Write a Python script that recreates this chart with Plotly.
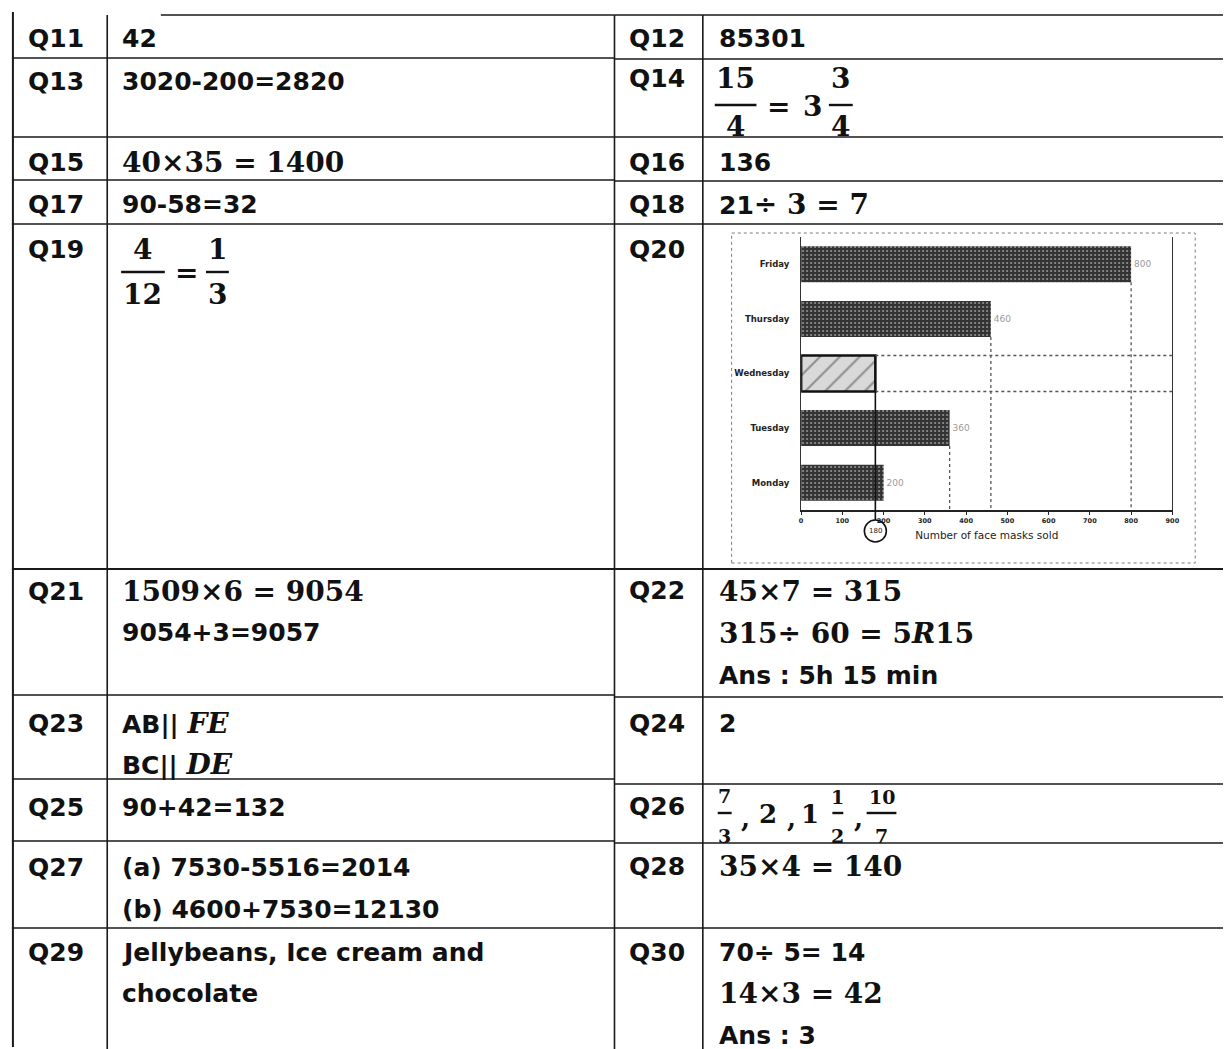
import plotly.graph_objects as go

# ---------------- data ----------------
days = ["Monday", "Tuesday", "Wednesday", "Thursday", "Friday"]
masks = [200, 360, 180, 460, 800]
hand_labels = ["200", "360", "", "460", "800"]
x_ticks = [0, 100, 200, 300, 400, 500, 600, 700, 800, 900]
answer_wed = "180"

q_left = ["Q11", "Q13", "Q15", "Q17", "Q19", "Q21", "Q23", "Q25", "Q27", "Q29"]
q_right = ["Q12", "Q14", "Q16", "Q18", "Q20", "Q22", "Q24", "Q26", "Q28", "Q30"]

W, H = 1230, 1049
SANS = "DejaVu Sans"
SERIF = "DejaVu Serif"
INK = "#111111"
SZ_SANS = 25
SZ_SERIF = 28


def serif_span(s, size=SZ_SERIF, italic=False):
    inner = f"<i>{s}</i>" if italic else s
    return f'<span style="font-family:{SERIF};font-size:{size}px">{inner}</span>'


def sans_span(s, size=SZ_SANS):
    return f'<span style="font-family:{SANS};font-size:{size}px">{s}</span>'


# answer lines: (text, family)
ans_left = [
    [("42", SANS)],
    [("3020-200=2820", SANS)],
    [("40×35 = 1400", SERIF)],
    [("90-58=32", SANS)],
    [],
    [("1509×6 = 9054", SERIF), ("9054+3=9057", SANS)],
    [("AB|| " + serif_span("FE", italic=True), SANS), ("BC|| " + serif_span("DE", italic=True), SANS)],
    [("90+42=132", SANS)],
    [("(a) 7530-5516=2014", SANS), ("(b) 4600+7530=12130", SANS)],
    [("Jellybeans, Ice cream and", SANS), ("chocolate", SANS)],
]
ans_right = [
    [("85301", SANS)],
    [],
    [("136", SANS)],
    [(sans_span("21") + "÷ 3 = 7", SERIF)],
    [],
    [("45×7 = 315", SERIF), ("315÷ 60 = 5<i>R</i>15", SERIF), ("Ans : 5h 15 min", SANS)],
    [("2", SANS)],
    [],
    [("35×4 = 140", SERIF)],
    [("70÷ 5= 14", SANS), ("14×3 = 42", SERIF), ("Ans : 3", SANS)],
]

# label rows (cap centre y) and answer line y positions
lab_y_left = [39, 82, 162, 204, 249, 591, 723, 807, 867, 952]
lab_y_right = [39, 79, 162, 204, 249, 590, 723, 806, 866, 952]
ans_y_left = [[39], [82], [162], [204], [], [591, 632], [723, 764], [807], [867, 909], [952, 993]]
ans_y_right = [[39], [], [162], [204], [], [591, 633, 675], [723], [], [866], [952, 993, 1035]]

# table lines
h_left = [58, 137, 180, 224, 569, 695, 779, 841, 928]
h_right = [59, 137, 181, 224, 569, 697, 784, 843, 928]

annotations = []
shapes = []


def px(x):
    return x / W


def py(y):
    return 1 - y / H


def T(x, y, text, size=SZ_SANS, family=SANS, anchor="left", color=INK, weight="bold"):
    annotations.append(dict(
        x=px(x), y=py(y), xref="paper", yref="paper", text=text, showarrow=False,
        xanchor=anchor, yanchor="middle", borderpad=0,
        font=dict(family=family, size=size, color=color, weight=weight)))


def L(x0, y0, x1, y1, w=1.6, color="#1a1a1a", dash="solid"):
    shapes.append(dict(type="line", xref="paper", yref="paper",
                       x0=px(x0), y0=py(y0), x1=px(x1), y1=py(y1),
                       line=dict(color=color, width=w, dash=dash)))


def frac(xc, yn, yb, yd, num, den, barw, size=SZ_SERIF):
    T(xc, yn, num, size=size, family=SERIF, anchor="center")
    L(xc - barw / 2, yb, xc + barw / 2, yb, w=2.4, color=INK)
    T(xc, yd, den, size=size, family=SERIF, anchor="center")


# ---------- table grid ----------
L(160, 15, 617, 15, w=1.6)
L(617, 15, 1230, 15, w=1.6)
for y in h_left:
    L(10, y, 617, y, w=2.0 if y == 569 else 1.5)
for y in h_right:
    L(617, y, 1230, y, w=2.0 if y == 569 else 1.5)
L(11, 12, 11, 1047, w=2.0)
L(106, 15, 106, 1049, w=1.6)
L(617, 15, 617, 1049, w=1.6)
L(706, 15, 706, 1049, w=1.6)

# ---------- labels & answers ----------
for q, y in zip(q_left, lab_y_left):
    T(25, y, q)
for q, y in zip(q_right, lab_y_right):
    T(631, y, q)
for lines, ys in zip(ans_left, ans_y_left):
    for (s, fam), y in zip(lines, ys):
        T(120, y, s, size=SZ_SERIF if fam == SERIF else SZ_SANS, family=fam)
for lines, ys in zip(ans_right, ans_y_right):
    for (s, fam), y in zip(lines, ys):
        T(721, y, s, size=SZ_SERIF if fam == SERIF else SZ_SANS, family=fam)

# Q19 : 4/12 = 1/3
frac(142, 250, 272, 294, "4", "12", 44)
T(186, 272, "=", size=SZ_SERIF, family=SERIF, anchor="center")
frac(217, 250, 272, 294, "1", "3", 23)

# Q14 : 15/4 = 3 3/4
frac(739, 79, 105, 126, "15", "4", 42)
T(782, 106, "=", size=SZ_SERIF, family=SERIF, anchor="center")
T(816, 106, "3", size=SZ_SERIF, family=SERIF, anchor="center")
frac(845, 79, 105, 126, "3", "4", 24)

# Q26 : 7/3 , 2 , 1 1/2 , 10/7
frac(728, 796, 813, 836, "7", "3", 14, size=19)
T(749, 818, ",", size=26, family=SERIF, anchor="center")
T(772, 814, "2", size=26, family=SERIF, anchor="center")
T(795, 818, ",", size=26, family=SERIF, anchor="center")
T(814, 814, "1", size=26, family=SERIF, anchor="center")
frac(842, 797, 813, 836, "1", "2", 11, size=19)
T(863, 818, ",", size=26, family=SERIF, anchor="center")
frac(886, 797, 813, 836, "10", "7", 30, size=19)

# ---------- embedded bar chart (Q20) ----------
bar_colors = ["#d9d9d9" if d == "Wednesday" else "#333333" for d in days]
pat_shapes = ["/" if d == "Wednesday" else "." for d in days]
pat_fg = ["#111111" if d == "Wednesday" else "#6e6e6e" for d in days]
line_w = [2.6 if d == "Wednesday" else 0 for d in days]

fig = go.Figure()
fig.add_trace(go.Bar(
    x=masks, y=days, orientation="h", width=0.66,
    marker=dict(color=bar_colors, line=dict(color="#111111", width=line_w),
                pattern=dict(shape=pat_shapes, fgcolor=pat_fg, bgcolor=bar_colors,
                             fillmode="overlay", size=[4, 4, 14, 4, 4],
                             solidity=[0.2, 0.2, 0.15, 0.2, 0.2])),
    text=hand_labels, textposition="outside", cliponaxis=False,
    textfont=dict(family="DejaVu Sans", size=9, color="#9a9a9a"),
    hoverinfo="skip",
))

# chart outer frame
shapes.append(dict(type="rect", xref="paper", yref="paper",
                   x0=px(735), x1=px(1202), y0=py(563), y1=py(233),
                   line=dict(color="#7a7a7a", width=1, dash="dot")))

# student drop lines
bw = 0.33
for d, v in zip(days, masks):
    i = days.index(d)
    if d in ("Friday", "Thursday", "Tuesday"):
        shapes.append(dict(type="line", xref="x", yref="y", x0=v, x1=v,
                           y0=i - bw, y1=-0.5,
                           line=dict(color="#555", width=1.3, dash="dot")))
iw = days.index("Wednesday")
vw = masks[iw]
for yy in (iw + bw, iw - bw):
    shapes.append(dict(type="line", xref="x", yref="y", x0=vw, x1=900,
                       y0=yy, y1=yy, line=dict(color="#555", width=1.3, dash="dot")))
shapes.append(dict(type="line", xref="x", yref="paper", x0=vw, x1=vw,
                   y0=py(391), y1=py(520), line=dict(color="#111", width=1.6)))
shapes.append(dict(type="circle", xref="x", yref="paper", xsizemode="pixel",
                   xanchor=vw, x0=-11, x1=11, y0=py(542), y1=py(520),
                   line=dict(color="#111", width=1.6)))
annotations.append(dict(x=vw, y=py(531), xref="x", yref="paper", text=answer_wed,
                        showarrow=False, font=dict(family="DejaVu Sans", size=7, color="#222")))

fig.update_layout(
    width=W, height=H, margin=dict(l=0, r=0, t=0, b=0),
    paper_bgcolor="white", plot_bgcolor="white", showlegend=False,
    shapes=shapes, annotations=annotations,
    xaxis=dict(domain=[px(805), px(1179)], range=[0, 900], tickvals=x_ticks,
               ticks="outside", ticklen=3, tickcolor="#222", showgrid=False,
               zeroline=False, showline=True, linecolor="#222", linewidth=1.5,
               tickfont=dict(family="DejaVu Sans", size=6.5, color="#222", weight="bold"),
               title=dict(text="Number of face masks sold", standoff=8,
                          font=dict(family="DejaVu Sans", size=10.5, color="#222"))),
    yaxis=dict(domain=[py(510), py(237)], categoryorder="array", categoryarray=days,
               range=[-0.5, 4.5], showgrid=False, zeroline=False, showline=True,
               mirror=True, linecolor="#333", linewidth=1.3, ticks="outside",
               ticklen=9, tickcolor="rgba(0,0,0,0)",
               tickfont=dict(family="DejaVu Sans", size=8.5, color="#222", weight="bold")),
)

fig.write_html("out.html", config={"displayModeBar": False},
               post_script="document.body.style.margin='0';document.body.style.overflow='hidden';")
